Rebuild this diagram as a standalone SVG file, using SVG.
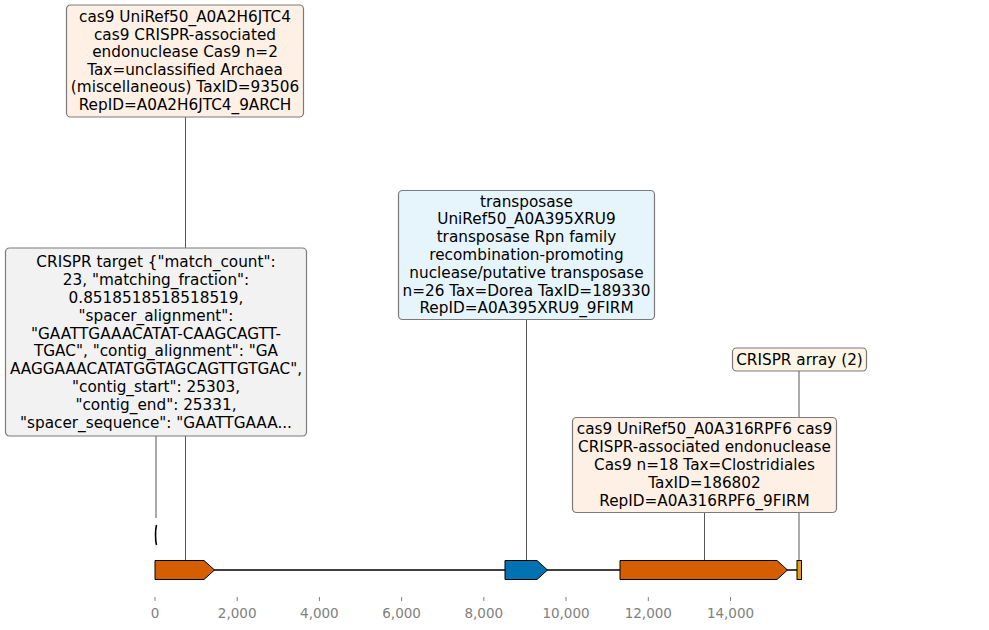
<svg xmlns="http://www.w3.org/2000/svg" width="989" height="630" viewBox="0 0 989 630">
<style>
.box{stroke:#7a7a7a;stroke-width:1.2}
.t{font-family:"DejaVu Sans",sans-serif;font-size:15.28px;fill:#000;text-anchor:middle}
.tick{font-family:"DejaVu Sans",sans-serif;font-size:13.5px;fill:#808080;text-anchor:middle}
.lk{stroke:#444;stroke-width:0.9;fill:none}
.feat{stroke:#000;stroke-width:1}
</style>
<rect width="989" height="630" fill="#fff"/>
<g id="connectors">
<line class="lk" x1="185.5" y1="117" x2="185.5" y2="561"/>
<line class="lk" x1="156" y1="436" x2="156" y2="518"/>
<line class="lk" x1="526.5" y1="319" x2="526.5" y2="561"/>
<line class="lk" x1="704.5" y1="512" x2="704.5" y2="561"/>
<line class="lk" x1="799" y1="371" x2="799" y2="561"/>
</g>
<g id="track">
<line x1="155" y1="570" x2="802" y2="570" stroke="#000" stroke-width="1.6"/>
</g>
<g id="feature-cas9-1"><path class="feat" d="M155,560.5 L204,560.5 L214.5,570 L204,579.5 L155,579.5 Z" fill="#d55e00"/></g>
<g id="feature-transposase"><path class="feat" d="M505,560.5 L537,560.5 L547.5,570 L537,579.5 L505,579.5 Z" fill="#0072b2"/></g>
<g id="feature-cas9-2"><path class="feat" d="M620,560.5 L777,560.5 L787.5,570 L777,579.5 L620,579.5 Z" fill="#d55e00"/></g>
<g id="feature-crispr-array"><rect class="feat" x="797" y="560.5" width="4.5" height="19" fill="#e69f00"/></g>
<g id="feature-crispr-target"><path d="M156.5,525 C155.2,530 155.2,540 156.5,545" fill="none" stroke="#000" stroke-width="1.6"/></g>
<g id="axis">
<g stroke="#808080" stroke-width="1">
<line x1="155" y1="597" x2="155" y2="601"/><line x1="237.2" y1="597" x2="237.2" y2="601"/><line x1="319.4" y1="597" x2="319.4" y2="601"/><line x1="401.6" y1="597" x2="401.6" y2="601"/><line x1="483.8" y1="597" x2="483.8" y2="601"/><line x1="566" y1="597" x2="566" y2="601"/><line x1="648.3" y1="597" x2="648.3" y2="601"/><line x1="730.5" y1="597" x2="730.5" y2="601"/>
</g>
<text class="tick" x="155" y="618">0</text><text class="tick" x="237.2" y="618">2,000</text><text class="tick" x="319.4" y="618">4,000</text><text class="tick" x="401.6" y="618">6,000</text><text class="tick" x="483.8" y="618">8,000</text><text class="tick" x="566" y="618">10,000</text><text class="tick" x="648.3" y="618">12,000</text><text class="tick" x="730.5" y="618">14,000</text>
</g>
<g id="label-cas9-top">
<rect class="box" x="66.5" y="5" width="237" height="112" rx="4" fill="#fef0e5"/>
<text class="t"><tspan x="185" y="22">cas9 UniRef50_A0A2H6JTC4</tspan><tspan x="185" y="39.5">cas9 CRISPR-associated</tspan><tspan x="185" y="57">endonuclease Cas9 n=2</tspan><tspan x="185" y="74.5">Tax=unclassified Archaea</tspan><tspan x="185" y="92">(miscellaneous) TaxID=93506</tspan><tspan x="185" y="109.5">RepID=A0A2H6JTC4_9ARCH</tspan></text>
</g>
<g id="label-crispr-target">
<rect class="box" x="5.5" y="248" width="301" height="188" rx="4" fill="#f2f2f2"/>
<text class="t"><tspan x="156" y="267.3">CRISPR target {"match_count":</tspan><tspan x="156" y="285.1">23, "matching_fraction":</tspan><tspan x="156" y="302.9">0.8518518518518519,</tspan><tspan x="156" y="320.7">"spacer_alignment":</tspan><tspan x="156" y="338.5">"GAATTGAAACATAT-CAAGCAGTT-</tspan><tspan x="156" y="356.3">TGAC", "contig_alignment": "GA</tspan><tspan x="156" y="374.1">AAGGAAACATATGGTAGCAGTTGTGAC",</tspan><tspan x="156" y="391.9">"contig_start": 25303,</tspan><tspan x="156" y="409.7">"contig_end": 25331,</tspan><tspan x="156" y="427.5">"spacer_sequence": "GAATTGAAA...</tspan></text>
</g>
<g id="label-transposase">
<rect class="box" x="398.5" y="190.5" width="256" height="129" rx="4" fill="#e6f4fc"/>
<text class="t"><tspan x="526.5" y="206.5">transposase</tspan><tspan x="526.5" y="224.3">UniRef50_A0A395XRU9</tspan><tspan x="526.5" y="242.1">transposase Rpn family</tspan><tspan x="526.5" y="259.9">recombination-promoting</tspan><tspan x="526.5" y="277.7">nuclease/putative transposase</tspan><tspan x="526.5" y="295.5">n=26 Tax=Dorea TaxID=189330</tspan><tspan x="526.5" y="313.3">RepID=A0A395XRU9_9FIRM</tspan></text>
</g>
<g id="label-crispr-array">
<rect class="box" x="732.5" y="348" width="134" height="23" rx="4" fill="#fdf5e6"/>
<text class="t" x="799.5" y="365">CRISPR array (2)</text>
</g>
<g id="label-cas9-bottom">
<rect class="box" x="572.5" y="417.5" width="264" height="95" rx="4" fill="#fef0e5"/>
<text class="t"><tspan x="704.5" y="434.3">cas9 UniRef50_A0A316RPF6 cas9</tspan><tspan x="704.5" y="452.1">CRISPR-associated endonuclease</tspan><tspan x="704.5" y="469.9">Cas9 n=18 Tax=Clostridiales</tspan><tspan x="704.5" y="487.7">TaxID=186802</tspan><tspan x="704.5" y="505.5">RepID=A0A316RPF6_9FIRM</tspan></text>
</g>
</svg>
